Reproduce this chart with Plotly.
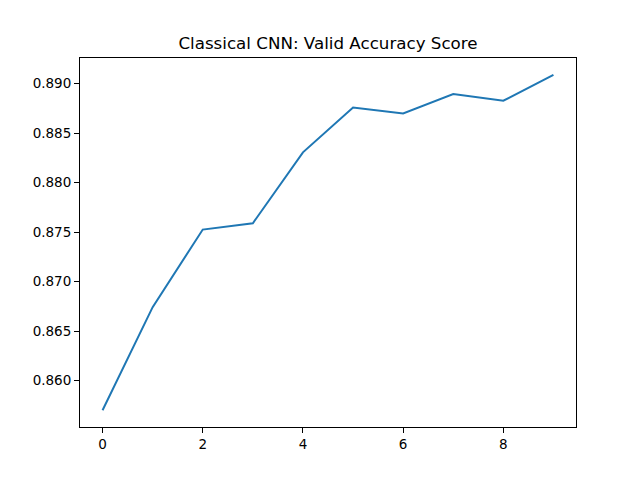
import plotly.graph_objects as go

epochs = list(range(10))
valid_acc = [0.85701, 0.86742, 0.87525, 0.87589, 0.88305, 0.88758, 0.88698, 0.88893, 0.88826, 0.89088]
title_text = "Classical CNN: Valid Accuracy Score"
x_ticks = [0, 2, 4, 6, 8]
y_ticks = [0.860, 0.865, 0.870, 0.875, 0.880, 0.885, 0.890]

ymin, ymax = min(valid_acc), max(valid_acc)
pad = (ymax - ymin) * 0.05

fig = go.Figure(go.Scatter(x=epochs, y=valid_acc, mode="lines",
                           line=dict(color="#1f77b4", width=2)))

axis_common = dict(showline=True, linecolor="black", linewidth=1, mirror=True,
                   ticks="outside", ticklen=5, tickcolor="black", showgrid=False,
                   zeroline=False, tickfont=dict(family="DejaVu Sans", size=13.5, color="black"))

# page body has an 8px margin, so offsets are compensated
fig.update_layout(
    width=640, height=480,
    margin=dict(l=72, r=72, t=50, b=61),
    paper_bgcolor="white", plot_bgcolor="white",
    title=dict(text=title_text, x=0.5, xanchor="center", y=1 - 35/480, yanchor="middle",
               font=dict(family="DejaVu Sans", size=16.7, color="black")),
    xaxis=dict(range=[-0.45, 9.45], tickvals=x_ticks, **axis_common),
    yaxis=dict(range=[ymin - pad, ymax + pad], tickvals=y_ticks, tickformat=".3f", **axis_common),
    showlegend=False,
)

fig.write_html("out.html")
